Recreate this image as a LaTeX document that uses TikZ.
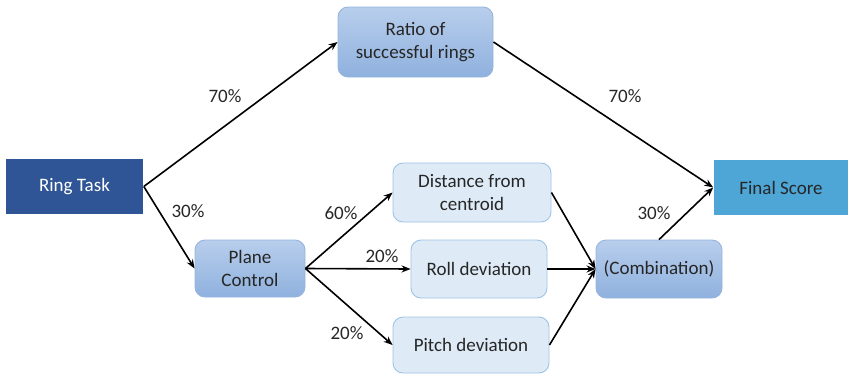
\documentclass[tikz,border=0pt]{standalone}
\usepackage{fontspec}
\setmainfont{Carlito}
\usetikzlibrary{arrows.meta}

\definecolor{darkbox}{RGB}{47,85,151}
\definecolor{finalbox}{RGB}{78,166,214}
\definecolor{midtop}{RGB}{184,206,236}
\definecolor{midbot}{RGB}{143,177,222}
\definecolor{midline}{RGB}{150,180,222}
\definecolor{lightbox}{RGB}{222,235,247}
\definecolor{lightline}{RGB}{157,195,230}
\definecolor{inktext}{RGB}{38,38,38}

\tikzset{every picture/.style={line width=1.6pt}}
\tikzset{
  flatbox/.style={rectangle, inner sep=0pt, align=center, text=inktext, font=\fontsize{19}{23}\selectfont},
  midbox/.style={flatbox, line width=0.9pt, rounded corners=10pt, draw=midline, top color=midtop, bottom color=midbot},
  leafbox/.style={flatbox, line width=0.9pt, rounded corners=10pt, draw=lightline, fill=lightbox},
  link/.style={-{Stealth[length=9pt,width=7pt]}, black},
  pct/.style={font=\fontsize{19}{23}\selectfont, text=inktext, inner sep=0.75pt}
}

\begin{document}
\begin{tikzpicture}[x=1pt,y=1pt,yscale=-1]
\useasboundingbox (0,0) rectangle (848,375);

% Boxes
\node [flatbox, fill=darkbox, text=white, minimum width=137, minimum height=55] (ring) at (74.5,186.5) {Ring Task};
\node [midbox, minimum width=155, minimum height=70] (ratio) at (415.5,42) {Ratio of\\successful rings};
\node [midbox, minimum width=110, minimum height=57] (plane) at (250,268.5) {Plane\\Control};
\node [leafbox, minimum width=158, minimum height=59] (dist) at (472,192.5) {Distance from\\centroid};
\node [leafbox, minimum width=136, minimum height=58] (roll) at (479,269) {Roll deviation};
\node [leafbox, minimum width=156, minimum height=56] (pitch) at (471,345) {Pitch deviation};
\node [midbox, minimum width=126, minimum height=58] (comb) at (659,269) {(Combination)};
\node [flatbox, fill=finalbox, minimum width=134, minimum height=55] (final) at (781,187.5) {Final Score};

% Connectors
\draw [link] (ring.east) -- (ratio.west);
\draw [link] (ring.east) -- (plane.west);
\draw [link] (ratio.east) -- (final.west);
\draw [link] (plane.east) -- (dist.west);
\draw [link] (plane.east) -- (roll.west);
\draw [link] (plane.east) -- (pitch.west);
\draw [link] (dist.east) -- (comb.west);
\draw [link] (roll.east) -- (comb.west);
\draw [link] (pitch.east) -- (comb.west);
\draw [link] (comb.north) -- (final.west);

% Text Node
\node [pct] (p1) at (225,96) {70\%};
\node [pct] (p2) at (188,211) {30\%};
\node [pct] (p3) at (625,96) {70\%};
\node [pct] (p4) at (341,213) {60\%};
\node [pct] (p5) at (382,256) {20\%};
\node [pct] (p6) at (347,333) {20\%};
\node [pct] (p7) at (654,213) {30\%};

\end{tikzpicture}
\end{document}
